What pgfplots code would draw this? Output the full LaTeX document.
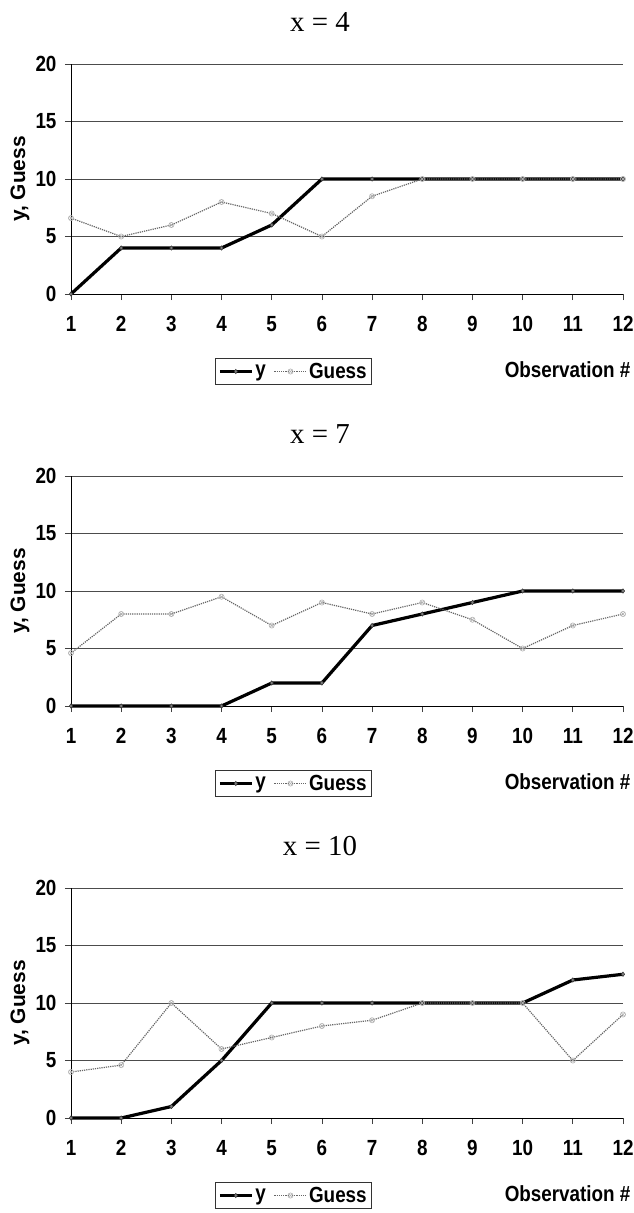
\documentclass[border=0pt]{standalone}
\usepackage{fontspec}
\setmainfont{Liberation Sans}
\newfontfamily\timesfont{Liberation Serif}
\newfontfamily\condfont[FakeStretch=0.86]{Liberation Sans}
\usepackage{pgfplots}
\pgfplotsset{compat=1.18}
\pgfplotsset{
  panel/.style={
    scale only axis, width=552bp, height=230bp,
    xmin=1, xmax=12, ymin=0, ymax=20,
    xtick={1,...,12}, ytick={0,5,10,15,20},
    axis x line*=bottom, axis y line*=left,
    axis line style={-, black, line width=0.8bp},
    tick align=outside, major tick length=6bp,
    tick style={black!75, line width=0.8bp},
    ymajorgrids, grid style={black!70, line width=0.8bp},
    /pgf/number format/assume math mode=true,
    ticklabel style={font=\condfont\bfseries\fontsize{22}{22}\selectfont},
    xticklabel style={yshift=-13bp},
    yticklabel style={xshift=-5bp},
    ylabel={y, Guess},
    every axis y label/.style={at={(axis description cs:-0.0924,0.5)}, rotate=90, anchor=center, font=\bfseries\fontsize{21}{21}\selectfont},
    xlabel={Observation \#},
    every axis x label/.style={at={(axis description cs:1.0199,-0.3304)}, anchor=east, font=\condfont\bfseries\fontsize{22}{22}\selectfont},
    title style={at={(axis description cs:0.451,1.1565)}, anchor=center, font=\timesfont\fontsize{29}{29}\selectfont},
    clip=false,
    legend columns=2,
    legend style={at={(axis description cs:0.403,-0.337)}, anchor=center,
      draw=black!80, line width=0.8bp, inner xsep=3bp, inner ysep=2.5bp,
      font=\condfont\bfseries\fontsize{22}{22}\selectfont,
      /tikz/every even column/.append style={column sep=6bp}},
    legend image code/.code={\draw[mark repeat=2,mark phase=2] plot coordinates {(0bp,0bp) (16bp,0bp) (32bp,0bp)};},
  },
  yser/.style={black, line width=3.2bp, mark=diamond*, mark size=2.2bp, mark options={fill=gray, draw=black!80, line width=0.5bp, solid}},
  gser/.style={black!60, line width=1.2bp, densely dotted, mark=otimes, mark size=2.6bp, mark options={draw=gray!60, line width=0.6bp, solid}},
}
\begin{document}
\begin{tikzpicture}
% Panel 1: x = 4
\begin{axis}[panel, at={(71bp,-294bp)}, anchor=south west, title={x = 4}]
\addplot[yser] coordinates {(1,0) (2,4) (3,4) (4,4) (5,6) (6,10) (7,10) (8,10) (9,10) (10,10) (11,10) (12,10)};
\addplot[gser] coordinates {(1,6.6) (2,5) (3,6) (4,8) (5,7) (6,5) (7,8.5) (8,10) (9,10) (10,10) (11,10) (12,10)};
\legend{y, Guess}
\end{axis}
% Panel 2: x = 7
\begin{axis}[panel, at={(71bp,-706bp)}, anchor=south west, title={x = 7}]
\addplot[yser] coordinates {(1,0) (2,0) (3,0) (4,0) (5,2) (6,2) (7,7) (8,8) (9,9) (10,10) (11,10) (12,10)};
\addplot[gser] coordinates {(1,4.6) (2,8) (3,8) (4,9.5) (5,7) (6,9) (7,8) (8,9) (9,7.5) (10,5) (11,7) (12,8)};
\legend{y, Guess}
\end{axis}
% Panel 3: x = 10
\begin{axis}[panel, at={(71bp,-1118bp)}, anchor=south west, title={x = 10}]
\addplot[yser] coordinates {(1,0) (2,0) (3,1) (4,5) (5,10) (6,10) (7,10) (8,10) (9,10) (10,10) (11,12) (12,12.5)};
\addplot[gser] coordinates {(1,4) (2,4.6) (3,10) (4,6) (5,7) (6,8) (7,8.5) (8,10) (9,10) (10,10) (11,5) (12,9)};
\legend{y, Guess}
\end{axis}
\pgfresetboundingbox
\path (0bp,0bp) rectangle (634bp,-1213bp);
\end{tikzpicture}
\end{document}
